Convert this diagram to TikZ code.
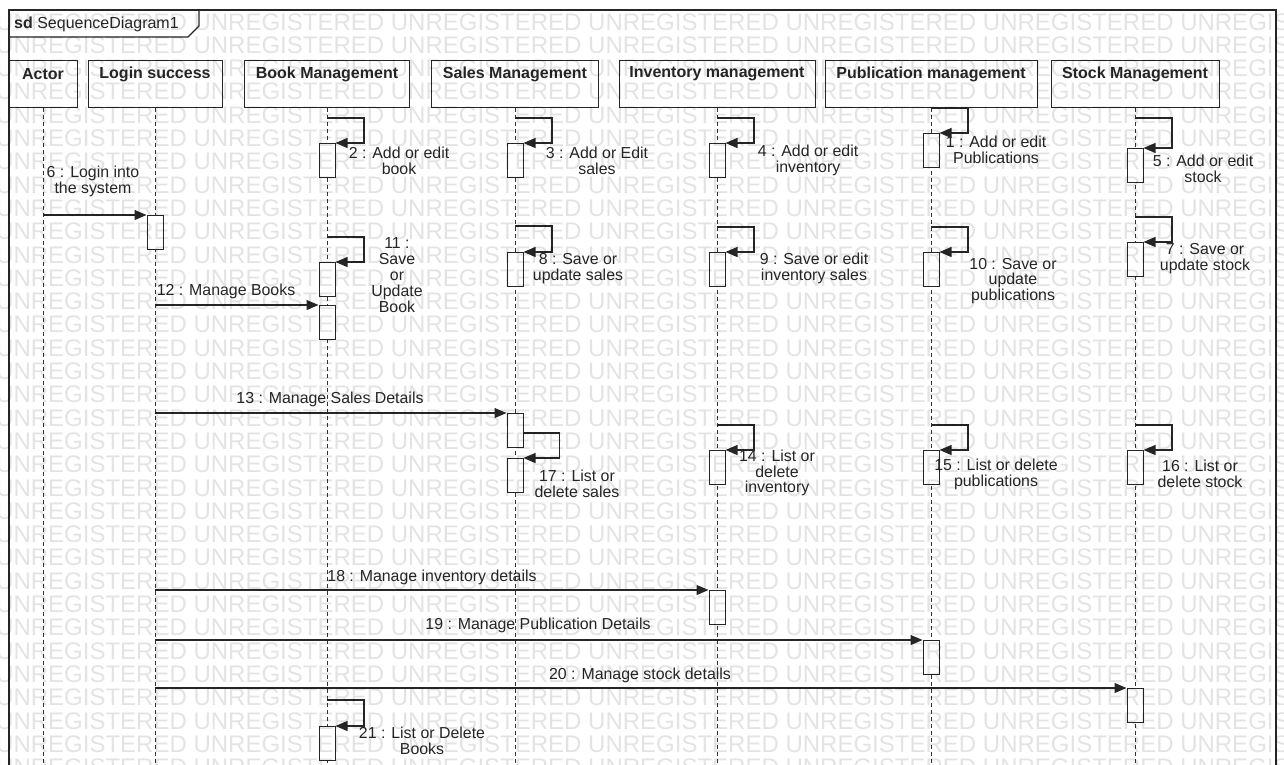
\documentclass[tikz,border=0pt]{standalone}
\usepackage{fontspec}
\setmainfont{Liberation Sans}
\usetikzlibrary{arrows.meta}

\newcommand\selfcall[5]{% name, lifeline x, loop top, activation top, loop right offset
  \node[act, anchor=north] (#1) at (#2,#4) {};
  \coordinate (#1s) at (#2,#3);
  \draw[msg] (#1s) -- ++(#5,0) |- (#1.north east);
}

\begin{document}
\begin{tikzpicture}[x=1pt,y=-1pt,
  lbl/.style={font=\fontsize{15.9}{15.8}\selectfont, align=center, inner sep=0pt, text=black!85},
  headbox/.style={draw=black!85, fill=white, line width=1pt, minimum height=47pt, inner sep=0pt},
  headtxt/.style={font=\bfseries\fontsize{16}{18}\selectfont, inner sep=0pt, text=black!85},
  life/.style={draw=black!80, line width=1pt, dash pattern=on 4pt off 3pt},
  act/.style={draw=black!85, fill=white, line width=1pt, minimum width=16pt, minimum height=34pt, inner sep=0pt},
  msg/.style={draw=black!85, line width=1.1pt, -{Triangle[length=12pt,width=10pt]}},
  wm/.style={font=\fontsize{24}{24}\selectfont, text=black, opacity=0.11, inner sep=0pt}]

\useasboundingbox (0,0) rectangle (1284,764);
\fill[white] (0,0) rectangle (1284,764);

% frame with its name tab
\draw[black!85, line width=1.1pt] (9,770) -- (9,10) -- (1276,10) -- (1276,770);
\draw[black!85, line width=1.1pt] (9,37) -- (188,37) -- (199,26) -- (199,10);
\node[anchor=base west, inner sep=0pt, font=\fontsize{16}{18}\selectfont, text=black!85] (sdname) at (14,28) {\textbf{sd} SequenceDiagram1};

% lifeline heads
\node[headbox, minimum width=68pt]  (hA) at (43,83.5) {};
\node[headbox, minimum width=134pt] (hL) at (155,83.5) {};
\node[headbox, minimum width=165pt] (hB) at (327,83.5) {};
\node[headbox, minimum width=167pt] (hS) at (515,83.5) {};
\node[headbox, minimum width=196pt] (hI) at (717,83.5) {};
\node[headbox, minimum width=212pt] (hP) at (931,83.5) {};
\node[headbox, minimum width=168pt] (hK) at (1135,83.5) {};
\node[headtxt] (tA) at (43,74) {Actor};
\node[headtxt] (tL) at (155,74) {Login success};
\node[headtxt] (tB) at (327,74) {Book Management};
\node[headtxt] (tS) at (515,74) {Sales Management};
\node[headtxt] (tI) at (717,74) {Inventory management};
\node[headtxt] (tP) at (931,74) {Publication management};
\node[headtxt] (tK) at (1135,74) {Stock Management};

% dashed lifelines
\foreach \h in {hA,hL,hB,hS,hI,hP,hK}
  \draw[life] (\h.south) -- (\h.south |- 0,770);

% self calls
\selfcall{aP1}{931}{108}{133}{37}
\selfcall{aB1}{327}{118}{143}{37}
\selfcall{aS1}{515}{118}{143}{37}
\selfcall{aI1}{717}{118}{143}{37}
\selfcall{aK1}{1135}{118}{148}{37}
\selfcall{aK2}{1135}{217}{242}{37}
\selfcall{aS2}{515}{226}{252}{37}
\selfcall{aI2}{717}{227}{252}{37}
\selfcall{aP2}{931}{227}{252}{37}
\selfcall{aB2}{327}{237}{262}{37}
\selfcall{aI3}{717}{425}{450}{37}
\selfcall{aP3}{931}{425}{450}{37}
\selfcall{aK3}{1135}{425}{450}{37}
\selfcall{aB4}{327}{700}{726}{37}

% calls between lifelines
\node[act, anchor=north] (aL1) at (155,215) {};
\draw[msg] (hA.south |- aL1.north) -- (aL1.north west);
\node[act, anchor=north] (aB3) at (327,305) {};
\draw[msg] (hL.south |- aB3.north) -- (aB3.north west);
\node[act, anchor=north] (aS3) at (515,413) {};
\draw[msg] (hL.south |- aS3.north) -- (aS3.north west);
\node[act, anchor=north] (aS4) at (515,458) {};
\coordinate (aS4s) at (aS3.east |- 0,433);
\draw[msg] (aS4s) -- ++(36,0) |- (aS4.north east);
\node[act, anchor=north] (aI4) at (717,590) {};
\draw[msg] (hL.south |- aI4.north) -- (aI4.north west);
\node[act, anchor=north] (aP4) at (931,640) {};
\draw[msg] (hL.south |- aP4.north) -- (aP4.north west);
\node[act, anchor=north] (aK4) at (1135,688) {};
\draw[msg] (hL.south |- aK4.north) -- (aK4.north west);

% message labels
\node[lbl] (m1)  at (996,150)   {1 : Add or edit\\Publications};
\node[lbl] (m2)  at (399,160.5) {2 : Add or edit\\book};
\node[lbl] (m3)  at (597,160.5) {3 : Add or Edit\\sales};
\node[lbl] (m4)  at (808,160.5) {4 : Add or edit\\inventory};
\node[lbl] (m5)  at (1203,169)  {5 : Add or edit\\stock};
\node[lbl] (m6)  at (93,181)    {6 : Login into\\the system};
\node[lbl] (m7)  at (1205,258.5){7 : Save or\\update stock};
\node[lbl] (m8)  at (578,268.5) {8 : Save or\\update sales};
\node[lbl] (m9)  at (814,268.5) {9 : Save or edit\\inventory sales};
\node[lbl] (m10) at (1013,281)  {10 : Save or\\update\\publications};
\node[lbl] (m11) at (397,275)   {11 :\\Save\\or\\Update\\Book};
\node[lbl] (m12) at (226,291)   {12 : Manage Books};
\node[lbl] (m13) at (330,399)   {13 : Manage Sales Details};
\node[lbl] (m14) at (777,473)   {14 : List or\\delete\\inventory};
\node[lbl] (m15) at (996,474)   {15 : List or delete\\publications};
\node[lbl] (m16) at (1200,474)  {16 : List or\\delete stock};
\node[lbl] (m17) at (577,484)   {17 : List or\\delete sales};
\node[lbl] (m18) at (432,577)   {18 : Manage inventory details};
\node[lbl] (m19) at (538,625)   {19 : Manage Publication Details};
\node[lbl] (m20) at (640,675)   {20 : Manage stock details};
\node[lbl] (m21) at (422,740.5) {21 : List or Delete\\Books};

% faint watermark rows over the whole sheet
\begin{scope}
  \clip (0,0) rectangle (1284,764);
  \foreach \k in {0,...,32}
    \node[wm, anchor=base west] (wm\k) at (-4,30+23.3*\k)
      {UNREGISTERED UNREGISTERED UNREGISTERED UNREGISTERED UNREGISTERED UNREGISTERED UNREGISTERED};
\end{scope}
\end{tikzpicture}
\end{document}
